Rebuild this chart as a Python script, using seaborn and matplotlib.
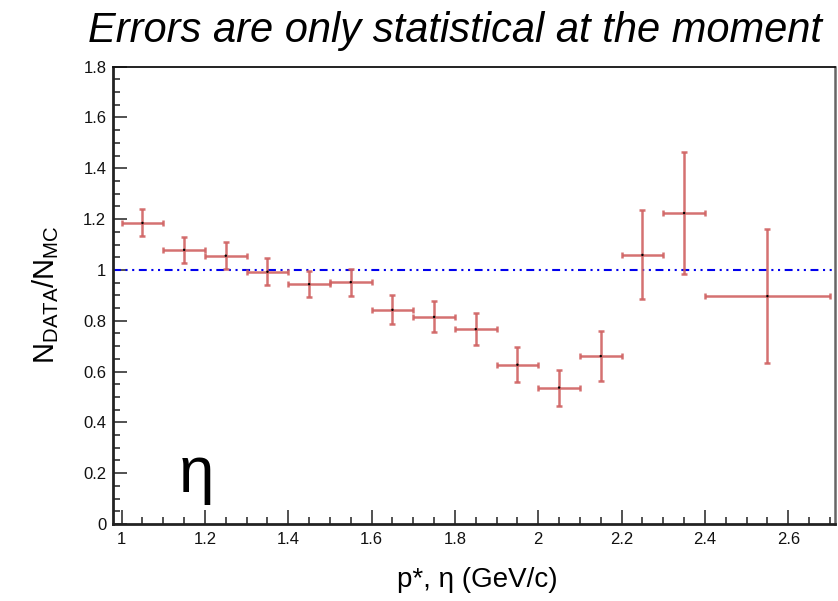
import numpy as np
import pandas as pd
import matplotlib
matplotlib.use("Agg")
import matplotlib.pyplot as plt
import seaborn as sns
from matplotlib.ticker import MultipleLocator

# bin edges in p* (GeV/c)
bin_low = [1.0, 1.1, 1.2, 1.3, 1.4, 1.5, 1.6, 1.7, 1.8, 1.9, 2.0, 2.1, 2.2, 2.3, 2.4]
bin_high = [1.1, 1.2, 1.3, 1.4, 1.5, 1.6, 1.7, 1.8, 1.9, 2.0, 2.1, 2.2, 2.3, 2.4, 2.7]
# data / MC ratio and statistical error
ratio = [1.185, 1.079, 1.056, 0.993, 0.944, 0.952, 0.843, 0.815, 0.767,
         0.627, 0.537, 0.661, 1.059, 1.224, 0.897]
ratio_err = [0.053, 0.052, 0.052, 0.052, 0.052, 0.053, 0.057, 0.061, 0.064,
             0.068, 0.071, 0.100, 0.175, 0.240, 0.265]

df = pd.DataFrame({"low": bin_low, "high": bin_high,
                   "ratio": ratio, "err": ratio_err})
df["center"] = (df["low"] + df["high"]) / 2
df["half"] = (df["high"] - df["low"]) / 2

sns.set_theme(style="white")
plt.rcParams["font.family"] = ["Liberation Sans", "DejaVu Sans"]
plt.rcParams["text.color"] = "black"

fig = plt.figure(figsize=(8.38, 6.01), dpi=100)
ax = fig.add_axes([0.1352, 0.1281, 0.8616, 0.761])

# reference line at unity
ax.axhline(1.0, color="#0000ee", lw=1.5, dashes=(3.8, 2.2, 1, 2.2, 1, 2.2),
           zorder=1)

ax.errorbar(df["center"], df["ratio"], xerr=df["half"], yerr=df["err"],
            fmt="none", ecolor="#d06262", elinewidth=1.8, capsize=2.5,
            capthick=1.8, alpha=0.9, zorder=2)
sns.scatterplot(data=df, x="center", y="ratio", color="black", s=3,
                edgecolor="none", ax=ax, zorder=3)

ax.set_xlim(0.98, 2.713)
ax.set_ylim(0, 1.8)
ax.xaxis.set_minor_locator(MultipleLocator(0.05))
ax.yaxis.set_minor_locator(MultipleLocator(0.05))
ax.set_xticks([1, 1.2, 1.4, 1.6, 1.8, 2, 2.2, 2.4, 2.6])
ax.set_xticklabels(["1", "1.2", "1.4", "1.6", "1.8", "2", "2.2", "2.4", "2.6"])
ax.set_yticks([0, 0.2, 0.4, 0.6, 0.8, 1, 1.2, 1.4, 1.6, 1.8])
ax.set_yticklabels(["0", "0.2", "0.4", "0.6", "0.8", "1", "1.2", "1.4", "1.6", "1.8"])
ax.tick_params(which="both", direction="in", bottom=True, left=True,
               top=False, right=False, colors="#333333",
               labelcolor="#111111", labelsize=12)
ax.tick_params(which="major", length=10, width=1.2)
ax.tick_params(which="minor", length=5, width=1.2)
ax.tick_params(axis="x", pad=6)
ax.tick_params(axis="y", pad=5)

for side in ["left", "bottom"]:
    ax.spines[side].set_linewidth(2)
    ax.spines[side].set_color("#222222")
ax.spines["top"].set_linewidth(1.3)
ax.spines["top"].set_color("#111111")
ax.spines["right"].set_linewidth(1.8)
ax.spines["right"].set_color("#666666")

ax.set_xlabel("")
ax.set_ylabel("")
fig.text(0.543, 0.948, "Errors are only statistical at the moment",
         ha="center", va="center", fontsize=30, style="italic")
fig.text(0.054, 0.51, r"N$_{\mathregular{DATA}}$/N$_{\mathregular{MC}}$",
         rotation=90, ha="center", va="center", fontsize=21)
fig.text(0.57, 0.035, "p*, η (GeV/c)", ha="center", va="center", fontsize=20)
ax.text(0.235, 0.21, "η", transform=fig.transFigure, ha="center",
        va="center", fontsize=46)

fig.savefig("out.png", dpi=100)
